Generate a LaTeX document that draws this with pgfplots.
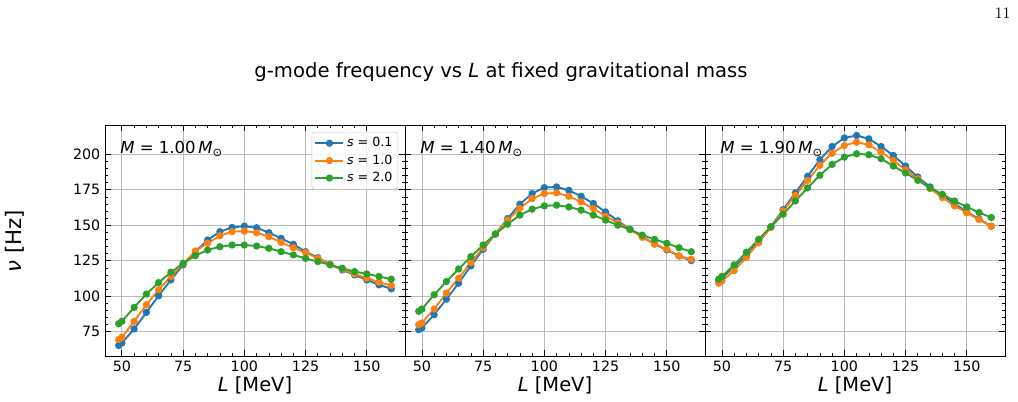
\documentclass[border=0pt]{standalone}
\usepackage{pgfplots}
\pgfplotsset{compat=1.18}
\usepackage{pgfplotstable}
\usepackage{fontspec}
\setmainfont{DejaVu Sans}
\definecolor{c1}{HTML}{1F77B4}
\definecolor{c2}{HTML}{FF7F0E}
\definecolor{c3}{HTML}{2CA02C}

\pgfplotstableread{
L     b     o     g
48.7  65.2  69.4  80.6
50    67.0  71.0  82.3
55    76.9  82.3  92.1
60    88.6  94.0  101.5
65    100.3 104.5 109.6
70    111.5 113.9 116.9
75    122.1 122.8 123.2
80    131.4 131.9 128.6
85    139.6 137.3 132.6
90    145.5 142.7 134.9
95    148.5 145.5 136.1
100   149.4 145.9 136.1
105   148.3 144.8 135.4
110   144.8 142.0 133.8
115   140.8 138.0 131.4
120   136.6 134.2 129.1
125   131.4 130.7 126.7
130   127.2 126.7 124.4
135   122.5 122.5 122.1
140   118.5 119.0 119.7
145   115.0 115.7 117.4
150   111.5 112.7 115.7
155   108.0 109.9 113.9
160   105.2 107.5 112.0
}\tabA

\pgfplotstableread{
L     b     o     g
48.7  76.4  79.9  89.3
50    77.6  81.1  90.9
55    86.9  90.9  101.0
60    97.9  102.2 110.3
65    109.2 112.7 119.2
70    121.4 123.7 127.9
75    133.1 134.2 136.1
80    143.8 143.8 143.8
85    154.8 153.7 150.8
90    164.9 161.9 157.2
95    172.4 168.9 161.4
100   176.6 172.4 163.7
105   177.1 172.9 164.2
110   174.7 170.5 163.0
115   170.5 166.5 160.7
120   165.4 161.9 157.2
125   159.5 156.5 153.7
130   153.2 151.8 150.1
135   147.1 147.1 147.1
140   142.0 141.5 143.1
145   136.8 136.8 140.1
150   132.6 133.1 137.3
155   128.4 128.4 134.2
160   125.1 126.0 131.4
}\tabB

\pgfplotstableread{
L     b     o     g
48.7  111.1 109.2 112.0
50    112.7 110.8 113.9
55    120.9 118.1 122.1
60    128.4 127.4 131.0
65    139.1 137.7 140.1
70    149.0 148.5 149.0
75    161.1 160.2 157.9
80    172.9 171.2 167.2
85    184.6 181.7 176.4
90    196.3 192.3 185.3
95    205.6 200.9 193.0
100   211.7 206.3 198.1
105   213.4 208.7 200.5
110   211.0 206.8 199.8
115   205.6 201.6 197.0
120   199.3 195.8 191.8
125   191.8 189.2 186.9
130   184.1 182.9 181.7
135   177.1 175.9 176.4
140   171.2 169.6 171.9
145   165.4 163.7 167.2
150   159.5 158.8 163.0
155   154.4 154.1 159.0
160   149.4 149.4 155.5
}\tabC

\pgfplotsset{
  panel/.style={
    scale only axis, width=225pt, height=173.25pt,
    anchor=south west,
    xmin=43.1, xmax=165.6, ymin=57.8, ymax=220.8,
    xtick={50,75,...,150}, ytick={75,100,...,200},
    minor x tick num=4, minor y tick num=4,
    tick align=inside, xtick pos=both, ytick pos=both,
    major tick length=4.5pt, minor tick length=2.3pt,
    every tick/.style={black, line width=0.6pt},
    every minor tick/.style={black, line width=0.5pt},
    grid=major, major grid style={color=black!27, line width=0.6pt},
    axis line style={line width=0.6pt},
    tick label style={font=\fontsize{10.7}{12}\selectfont},
    /pgf/number format/assume math mode=true,
    xlabel={\textit{L} [MeV]},
    xlabel style={font=\fontsize{14.6}{17}\selectfont, at={(axis description cs:0.5,0)}, anchor=center, yshift=-21.75pt},
    clip=false,
  },
  s1/.style={color=c1, line width=1.4pt, mark=*, mark size=2pt, mark options={solid}},
  s2/.style={color=c2, line width=1.4pt, mark=*, mark size=2pt, mark options={solid}},
  s3/.style={color=c3, line width=1.4pt, mark=*, mark size=2pt, mark options={solid}},
}

\begin{document}
\begin{tikzpicture}
\useasboundingbox (0,0) rectangle (763.5pt,301.5pt);

\begin{axis}[panel, at={(78.75pt,34.5pt)},
  legend style={at={(0.977,0.97)}, anchor=north east, draw=black!20, rounded corners=2pt,
    fill=white, fill opacity=0.8, text opacity=1, font=\fontsize{9.5}{11}\selectfont,
    row sep=0.5pt, inner sep=2pt},
  legend cell align=left,
  legend image code/.code={\draw[mark repeat=2,mark phase=2] plot coordinates {(0pt,0pt) (10.5pt,0pt) (21pt,0pt)};},
]
\addplot[s1] table[x=L,y=b] {\tabA};
\addplot[s2] table[x=L,y=o] {\tabA};
\addplot[s3] table[x=L,y=g] {\tabA};
\legend{\textit{s} = 0.1, \textit{s} = 1.0, \textit{s} = 2.0}
\node[anchor=west, font=\fontsize{12.4}{14}\selectfont, inner sep=0pt] at (rel axis cs:0.05,0.895) {\textit{M} = 1.00\,\textit{M}\raisebox{-0.35ex}{\fontsize{8.5}{9}\selectfont ⊙}};
\end{axis}

\begin{axis}[panel, at={(303.75pt,34.5pt)}, yticklabels={}]
\addplot[s1] table[x=L,y=b] {\tabB};
\addplot[s2] table[x=L,y=o] {\tabB};
\addplot[s3] table[x=L,y=g] {\tabB};
\node[anchor=west, font=\fontsize{12.4}{14}\selectfont, inner sep=0pt] at (rel axis cs:0.05,0.895) {\textit{M} = 1.40\,\textit{M}\raisebox{-0.35ex}{\fontsize{8.5}{9}\selectfont ⊙}};
\end{axis}

\begin{axis}[panel, at={(528.75pt,34.5pt)}, yticklabels={}]
\addplot[s1] table[x=L,y=b] {\tabC};
\addplot[s2] table[x=L,y=o] {\tabC};
\addplot[s3] table[x=L,y=g] {\tabC};
\node[anchor=west, font=\fontsize{12.4}{14}\selectfont, inner sep=0pt] at (rel axis cs:0.05,0.895) {\textit{M} = 1.90\,\textit{M}\raisebox{-0.35ex}{\fontsize{8.5}{9}\selectfont ⊙}};
\end{axis}

\node[font=\fontsize{14.7}{17}\selectfont] at (375.75pt,247.5pt) {g-mode frequency vs \textit{L} at fixed gravitational mass};
\node[rotate=90, font=\fontsize{16}{18}\selectfont] at (11.25pt,120.75pt) {\textit{ν} [Hz]};
\node[font=\fontsize{13}{15}\selectfont] at (752pt,291.4pt) {$11$};
\end{tikzpicture}
\end{document}
